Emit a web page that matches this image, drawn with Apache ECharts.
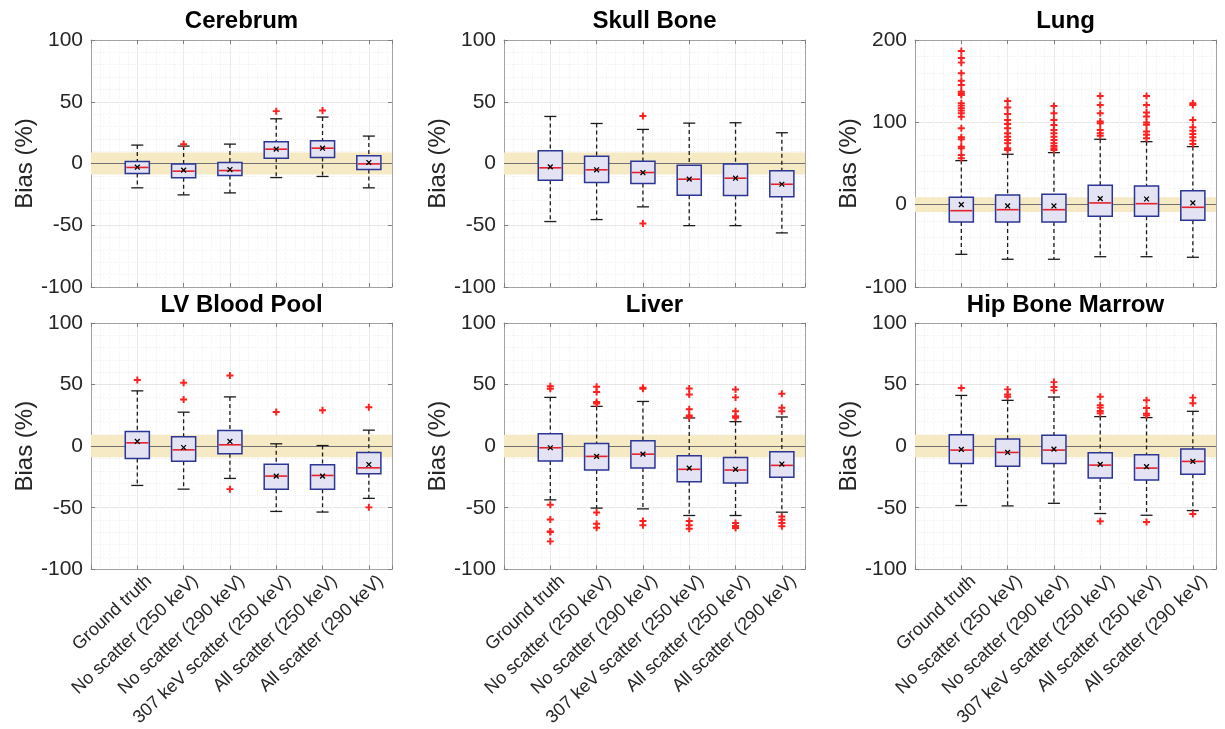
<!DOCTYPE html>
<html>
<head>
<meta charset="utf-8">
<title>Bias boxplots</title>
<script src="https://cdn.jsdelivr.net/npm/echarts@6/dist/echarts.min.js"></script>
<style>
  html, body { margin: 0; padding: 0; background: #fff; }
  #chart { width: 1225px; height: 729px; }
</style>
</head>
<body>
<div id="chart"></div>
<script>
const groups = [
  "Ground truth",
  "No scatter (250 keV)",
  "No scatter (290 keV)",
  "307 keV scatter (250 keV)",
  "All scatter (250 keV)",
  "All scatter (290 keV)"
];
const organs = ["Cerebrum", "Skull Bone", "Lung", "LV Blood Pool", "Liver", "Hip Bone Marrow"];

// each row: [lower whisker, Q1, median, Q3, upper whisker, mean]
const cerebrumBox = [
  [-19.7, -8.1, -3.2, 1.6, 14.9, -3.0],
  [-25.4, -11.6, -6.2, -0.5, 14.1, -5.4],
  [-23.8, -9.7, -5.7, 0.8, 15.7, -4.9],
  [-11.4, 4.3, 11.6, 17.6, 36.2, 11.6],
  [-10.5, 4.9, 12.4, 18.4, 37.6, 12.4],
  [-19.7, -4.9, -0.3, 6.2, 22.2, 0.8]
];
const cerebrumOut = [[], [15.7], [], [42.4], [43.0], []];

const skullBox = [
  [-47.0, -13.5, -3.5, 10.3, 38.1, -2.7],
  [-45.4, -15.4, -5.1, 5.9, 32.4, -5.1],
  [-35.1, -16.2, -7.3, 1.9, 27.6, -7.3],
  [-50.3, -25.7, -12.7, -1.4, 32.7, -12.7],
  [-50.3, -25.9, -11.9, -0.5, 33.0, -11.9],
  [-56.2, -27.0, -16.8, -5.9, 24.9, -16.8]
];
const skullOut = [[], [], [38.4, -48.6], [], [], []];

const lungBox = [
  [-60.3, -21.0, -7.3, 9.0, 53.5, 0.0],
  [-66.3, -21.0, -6.1, 11.8, 61.2, -1.6],
  [-66.3, -21.0, -6.1, 12.6, 63.2, -1.6],
  [-63.2, -14.1, 2.1, 23.5, 79.4, 7.3],
  [-63.2, -14.1, 1.2, 22.7, 76.5, 6.9],
  [-63.9, -19.0, -3.2, 17.0, 70.5, 2.1]
];
const lungOut = [
  [186.7, 178.2, 172.5, 159.6, 150.6, 145.4, 137.3, 135.3, 133.2, 123.2, 120.3, 117.1, 114.2, 111.0, 106.9, 92.8, 81.9, 79.4, 70.5, 68.5, 60.4, 56.4],
  [126.0, 117.9, 110.2, 102.9, 98.0, 92.8, 86.7, 82.6, 78.6, 74.6, 68.5, 66.4],
  [119.9, 111.0, 102.9, 96.8, 90.7, 86.7, 82.6, 78.6, 74.6, 71.3, 68.5, 66.4],
  [132.0, 121.1, 111.0, 100.9, 98.9, 90.7, 86.7, 83.8],
  [132.0, 121.1, 112.0, 107.0, 99.7, 97.0, 88.8, 84.8, 80.7],
  [123.2, 121.0, 102.9, 94.0, 89.9, 85.9, 81.9, 77.8, 73.7]
];

const lvBox = [
  [-31.9, -10.0, 2.7, 11.9, 44.9, 3.8],
  [-34.9, -12.2, -3.0, 7.6, 27.6, -1.1],
  [-26.2, -6.2, 1.1, 12.7, 40.0, 3.8],
  [-53.0, -34.9, -24.3, -14.6, 1.9, -24.3],
  [-53.5, -34.9, -23.8, -15.1, 0.5, -24.3],
  [-42.4, -22.4, -17.6, -5.1, 13.0, -14.9]
];
const lvOut = [[53.8], [51.4, 37.8], [57.3, -34.9], [27.8], [29.2], [31.6, -49.7]];

const liverBox = [
  [-43.6, -12.1, -1.3, 10.0, 39.6, -1.3],
  [-50.3, -19.4, -8.3, 2.2, 32.3, -8.3],
  [-50.9, -17.8, -6.5, 4.3, 36.3, -6.5],
  [-56.3, -28.8, -18.8, -7.8, 22.9, -17.8],
  [-56.3, -29.9, -19.4, -9.2, 19.9, -18.8],
  [-53.6, -25.3, -15.6, -4.6, 23.7, -14.5]
];
const liverOut = [
  [48.7, 46.6, -47.6, -59.5, -69.2, -69.7, -77.3],
  [48.2, 43.9, 35.8, 34.7, -53.8, -63.0, -66.2],
  [47.4, 46.6, -60.8, -64.3],
  [46.8, 42.0, 29.9, 25.0, 23.7, -60.8, -64.3, -67.0],
  [46.0, 39.6, 28.3, 24.2, 23.1, -62.4, -64.9, -66.5],
  [42.5, 31.2, 28.3, -57.1, -59.8, -62.4, -65.1]
];

const hipBox = [
  [-48.2, -14.0, -3.2, 9.2, 41.2, -2.7],
  [-48.5, -16.4, -5.1, 5.9, 37.2, -5.1],
  [-46.4, -14.0, -3.2, 8.9, 39.9, -2.4],
  [-54.7, -25.9, -15.4, -5.4, 24.0, -14.8],
  [-56.1, -27.5, -17.8, -7.0, 23.2, -16.7],
  [-52.3, -22.9, -12.4, -2.4, 28.3, -12.4]
];
const hipOut = [[47.2], [46.1, 42.0, 40.2], [52.0, 48.0, 45.3], [40.2, 33.2, 31.3, 28.6, 26.7, -60.9], [37.2, 31.0, 26.4, 25.1, -61.5], [39.4, 34.8, -55.0]];

const yMin = [-100, -100, -100, -100, -100, -100];
const yMax = [100, 100, 200, 100, 100, 100];
const yStep = [50, 50, 100, 50, 50, 50];
const bandLow = -9, bandHigh = 9;

const boxes = [cerebrumBox, skullBox, lungBox, lvBox, liverBox, hipBox];
const outliers = [cerebrumOut, skullOut, lungOut, lvOut, liverOut, hipOut];

const gridLefts = [91, 504, 915];
const gridTops = [40, 323];
const gridW = 301, gridH = 247;
const font = "'Liberation Sans', Arial, sans-serif";
const frameColor = "#a3a3a3";

function renderBox(params, api) {
  const x = api.value(0);
  const p = [1, 2, 3, 4, 5, 6].map(i => api.coord([x, api.value(i)]));
  const cx = p[0][0];
  const w = api.size([1, 0])[0] * 0.52;
  const half = w / 2, cap = w / 4;
  const dash = { stroke: "#1a1a1a", lineWidth: 1.3, lineDash: [4, 3] };
  const solid = { stroke: "#1a1a1a", lineWidth: 1.3 };
  const mx = p[5][0], my = p[5][1], m = 2.4;
  return {
    type: "group",
    children: [
      { type: "line", shape: { x1: cx, y1: p[4][1], x2: cx, y2: p[3][1] }, style: dash },
      { type: "line", shape: { x1: cx, y1: p[1][1], x2: cx, y2: p[0][1] }, style: dash },
      { type: "line", shape: { x1: cx - cap, y1: p[4][1], x2: cx + cap, y2: p[4][1] }, style: solid },
      { type: "line", shape: { x1: cx - cap, y1: p[0][1], x2: cx + cap, y2: p[0][1] }, style: solid },
      { type: "rect", shape: { x: cx - half, y: p[3][1], width: w, height: p[1][1] - p[3][1] },
        style: { fill: "#e3e3f3", stroke: "#2b3596", lineWidth: 1.5 } },
      { type: "line", shape: { x1: cx - half + 1, y1: p[2][1], x2: cx + half - 1, y2: p[2][1] },
        style: { stroke: "#e5202b", lineWidth: 1.6 } },
      { type: "line", shape: { x1: mx - m, y1: my - m, x2: mx + m, y2: my + m }, style: { stroke: "#000", lineWidth: 1.3 } },
      { type: "line", shape: { x1: mx - m, y1: my + m, x2: mx + m, y2: my - m }, style: { stroke: "#000", lineWidth: 1.3 } }
    ]
  };
}

const grid = [], xAxis = [], yAxis = [], series = [], title = [];
organs.forEach((name, k) => {
  const col = k % 3, row = Math.floor(k / 3);
  const left = gridLefts[col], top = gridTops[row];
  grid.push({ left: left, top: top, width: gridW, height: gridH, containLabel: false });
  title.push({
    text: name, left: left + gridW / 2, top: top - (row === 0 ? 31 : 30), textAlign: "center", padding: 0,
    textStyle: { fontFamily: font, fontSize: 24, fontWeight: "bold", color: "#000" }
  });
  const xBase = {
    gridIndex: k, type: "value", min: 0, max: 6.5, interval: 1,
    axisLine: { show: true, onZero: false, lineStyle: { color: frameColor, width: 1 } },
    axisTick: { show: true, inside: true, length: 4, lineStyle: { color: "#808080" } }
  };
  xAxis.push(Object.assign({}, xBase, {
    position: "bottom",
    axisLabel: {
      show: row === 1, rotate: 43, fontSize: 18, fontFamily: font, color: "#262626",
      margin: 8, verticalAlign: "top", align: "right", padding: [0, -8, 0, 0],
      formatter: v => (Number.isInteger(v) && v >= 1 && v <= groups.length) ? groups[v - 1] : ""
    },
    splitLine: { show: true, showMinLine: false, showMaxLine: false, lineStyle: { color: "#ebebeb", width: 1 } },
    minorTick: { show: false, splitNumber: 5 },
    minorSplitLine: { show: true, lineStyle: { color: "#f3f3f3", width: 1, type: "dotted" } }
  }));
  xAxis.push(Object.assign({}, xBase, {
    position: "top", axisLabel: { show: false }, splitLine: { show: false }
  }));
  const yBase = {
    gridIndex: k, type: "value", min: yMin[k], max: yMax[k], interval: yStep[k],
    axisLine: { show: true, onZero: false, lineStyle: { color: frameColor, width: 1 } },
    axisTick: { show: true, inside: true, length: 4, lineStyle: { color: "#808080" } }
  };
  yAxis.push(Object.assign({}, yBase, {
    position: "left",
    name: "Bias (%)", nameLocation: "middle", nameGap: 52,
    nameTextStyle: { fontFamily: font, fontSize: 24, color: "#262626" },
    axisLabel: { fontSize: 21, fontFamily: font, color: "#262626", margin: 8 },
    splitLine: { show: true, showMinLine: false, showMaxLine: false, lineStyle: { color: "#e6e6e6", width: 1 } },
    minorTick: { show: false, splitNumber: 5 },
    minorSplitLine: { show: true, lineStyle: { color: "#f1f1f1", width: 1, type: "dotted" } }
  }));
  yAxis.push(Object.assign({}, yBase, {
    position: "right", axisLabel: { show: false }, splitLine: { show: false }
  }));

  series.push({
    type: "custom",
    name: name,
    xAxisIndex: 2 * k, yAxisIndex: 2 * k,
    renderItem: renderBox,
    encode: { x: 0, y: [1, 2, 3, 4, 5] },
    z: 10,
    data: boxes[k].map((b, i) => [i + 1].concat(b)),
    markArea: {
      silent: true, z: 1,
      itemStyle: { color: "#f6eac4" },
      data: [[{ yAxis: bandLow }, { yAxis: bandHigh }]]
    },
    markLine: {
      silent: true, z: 2, symbol: "none", label: { show: false },
      lineStyle: { color: "#707070", width: 1, type: "solid" },
      data: [{ yAxis: 0 }]
    }
  });
  const pts = [];
  outliers[k].forEach((list, i) => list.forEach(v => pts.push([i + 1, v])));
  series.push({
    type: "scatter",
    xAxisIndex: 2 * k, yAxisIndex: 2 * k,
    z: 11,
    symbol: "path://M3.6,0H6.4V10H3.6ZM0,3.6H10V6.4H0Z",
    symbolSize: 7,
    itemStyle: { color: "#ff1f1f", opacity: 1 },
    data: pts
  });
});

const chart = echarts.init(document.getElementById("chart"), null, { renderer: "canvas" });
chart.setOption({
  animation: false,
  backgroundColor: "#ffffff",
  textStyle: { fontFamily: font },
  title: title,
  grid: grid,
  xAxis: xAxis,
  yAxis: yAxis,
  series: series
});
</script>
</body>
</html>
